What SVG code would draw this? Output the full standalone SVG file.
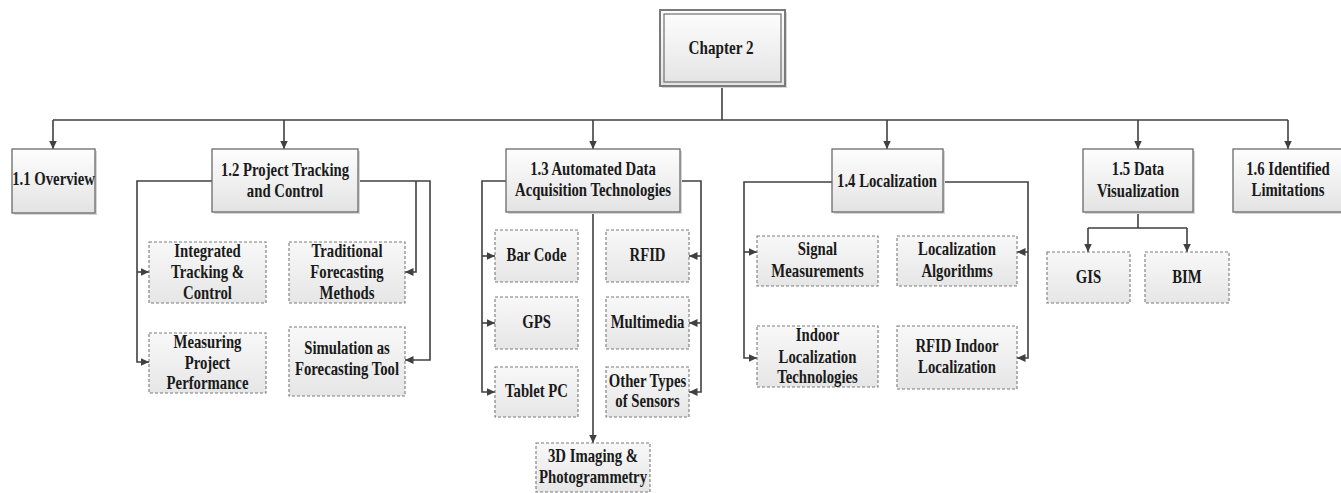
<svg xmlns="http://www.w3.org/2000/svg" width="1341" height="493" viewBox="0 0 1341 493">
<style>
.box{fill:url(#g);stroke:#6a6a6a;stroke-width:1.3}
.dbox{fill:url(#g2);stroke:#7a7a7a;stroke-width:1.1;stroke-dasharray:3 2}
.sh{fill:#d6d6d6}
text{font-family:"Liberation Serif","Times New Roman",serif;font-weight:bold;font-size:18px;fill:#1a1a1a;text-anchor:middle}
.c{fill:none;stroke:#404040;stroke-width:1.6}
.a{fill:none;stroke:#404040;stroke-width:1.6;marker-end:url(#ah)}
</style>
<defs>
<linearGradient id="g" x1="0" y1="0" x2="0" y2="1"><stop offset="0" stop-color="#fefefe"/><stop offset="1" stop-color="#e3e3e3"/></linearGradient>
<linearGradient id="g2" x1="0" y1="0" x2="0" y2="1"><stop offset="0" stop-color="#f8f8f8"/><stop offset="1" stop-color="#e6e6e6"/></linearGradient>
<marker id="ah" markerUnits="userSpaceOnUse" markerWidth="9" markerHeight="9" refX="8.5" refY="4.5" orient="auto"><path d="M0,0.5 L8.5,4.5 L0,8.5 z" fill="#404040"/></marker>
</defs>
<rect width="1341" height="493" fill="#fff"/>
<g id="connectors">
<path class="c" d="M722,86 V120"/>
<path class="c" d="M53,120 H1288"/>
<path class="a" d="M53,120 V149"/>
<path class="a" d="M284,120 V149"/>
<path class="a" d="M593,120 V149"/>
<path class="a" d="M887,120 V149"/>
<path class="a" d="M1138,120 V149"/>
<path class="a" d="M1288,120 V149"/>
<path class="a" d="M212,181 H137 V362 H149"/>
<path class="a" d="M137,272 H149"/>
<path class="a" d="M358,181 H430 V360 H405"/>
<path class="a" d="M416,181 V272 H405"/>
<path class="a" d="M506,181 H482 V392 H495"/>
<path class="a" d="M482,256 H495"/>
<path class="a" d="M482,323 H495"/>
<path class="a" d="M680,181 H701 V392 H689"/>
<path class="a" d="M701,256 H689"/>
<path class="a" d="M701,323 H689"/>
<path class="a" d="M593,212 V443"/>
<path class="a" d="M832,182 H744 V358 H757"/>
<path class="a" d="M744,252 H757"/>
<path class="a" d="M943,182 H1028 V358 H1017"/>
<path class="a" d="M1028,252 H1017"/>
<path class="c" d="M1138,212 V228 M1088,228 H1187"/>
<path class="a" d="M1088,228 V252"/>
<path class="a" d="M1187,228 V252"/>
</g>
<g id="chapter2">
<rect class="sh" x="662" y="12" width="125" height="76"/>
<rect x="660" y="10" width="125" height="76" fill="url(#g)" stroke="#7a7a7a" stroke-width="2"/>
<rect x="664" y="14" width="117" height="68" fill="none" stroke="#7a7a7a" stroke-width="1.3"/>
<text transform="matrix(.82 0 0 1 721 0)" y="54" style="font-size:18.5px">Chapter 2</text>
</g>
<g id="n11">
<rect class="sh" x="14" y="151" width="83" height="64"/>
<rect class="box" x="12" y="149" width="83" height="64"/>
<text transform="matrix(.82 0 0 1 53.5 0)" y="185">1.1 Overview</text>
</g>
<g id="n12">
<rect class="sh" x="214" y="151" width="146" height="63"/>
<rect class="box" x="212" y="149" width="146" height="63"/>
<text transform="matrix(.82 0 0 1 285 0)" y="176">1.2 Project Tracking</text>
<text transform="matrix(.82 0 0 1 285 0)" y="197">and Control</text>
</g>
<g id="n13">
<rect class="sh" x="508" y="151" width="174" height="63"/>
<rect class="box" x="506" y="149" width="174" height="63"/>
<text transform="matrix(.82 0 0 1 593 0)" y="175">1.3 Automated Data</text>
<text transform="matrix(.82 0 0 1 593 0)" y="196">Acquisition Technologies</text>
</g>
<g id="n14">
<rect class="sh" x="834" y="151" width="111" height="63"/>
<rect class="box" x="832" y="149" width="111" height="63"/>
<text transform="matrix(.82 0 0 1 887 0)" y="187">1.4 Localization</text>
</g>
<g id="n15">
<rect class="sh" x="1085" y="151" width="110" height="63"/>
<rect class="box" x="1083" y="149" width="110" height="63"/>
<text transform="matrix(.82 0 0 1 1138 0)" y="175">1.5 Data</text>
<text transform="matrix(.82 0 0 1 1138 0)" y="197">Visualization</text>
</g>
<g id="n16">
<rect class="sh" x="1235" y="151" width="112" height="63"/>
<rect class="box" x="1233" y="149" width="112" height="63"/>
<text transform="matrix(.82 0 0 1 1288 0)" y="175">1.6 Identified</text>
<text transform="matrix(.82 0 0 1 1288 0)" y="196">Limitations</text>
</g>
<g id="integrated">
<rect class="dbox" x="149" y="242" width="117" height="61"/>
<text transform="matrix(.82 0 0 1 207.5 0)" y="257">Integrated</text>
<text transform="matrix(.82 0 0 1 207.5 0)" y="278">Tracking &amp;</text>
<text transform="matrix(.82 0 0 1 207.5 0)" y="299">Control</text>
</g>
<g id="measuring">
<rect class="dbox" x="149" y="333" width="117" height="60"/>
<text transform="matrix(.82 0 0 1 207.5 0)" y="348">Measuring</text>
<text transform="matrix(.82 0 0 1 207.5 0)" y="369">Project</text>
<text transform="matrix(.82 0 0 1 207.5 0)" y="389">Performance</text>
</g>
<g id="traditional">
<rect class="dbox" x="289" y="242" width="116" height="61"/>
<text transform="matrix(.82 0 0 1 347 0)" y="257">Traditional</text>
<text transform="matrix(.82 0 0 1 347 0)" y="278">Forecasting</text>
<text transform="matrix(.82 0 0 1 347 0)" y="299">Methods</text>
</g>
<g id="simulation">
<rect class="dbox" x="289" y="327" width="116" height="69"/>
<text transform="matrix(.82 0 0 1 347 0)" y="354">Simulation as</text>
<text transform="matrix(.82 0 0 1 347 0)" y="375">Forecasting Tool</text>
</g>
<g id="barcode">
<rect class="dbox" x="495" y="230" width="83" height="52"/>
<text transform="matrix(.82 0 0 1 536.5 0)" y="261">Bar Code</text>
</g>
<g id="gps">
<rect class="dbox" x="495" y="297" width="83" height="52"/>
<text transform="matrix(.82 0 0 1 536.5 0)" y="328">GPS</text>
</g>
<g id="tablet">
<rect class="dbox" x="495" y="367" width="83" height="50"/>
<text transform="matrix(.82 0 0 1 536.5 0)" y="397">Tablet PC</text>
</g>
<g id="rfid">
<rect class="dbox" x="606" y="230" width="83" height="52"/>
<text transform="matrix(.82 0 0 1 647.5 0)" y="261">RFID</text>
</g>
<g id="multimedia">
<rect class="dbox" x="606" y="297" width="83" height="52"/>
<text transform="matrix(.82 0 0 1 647.5 0)" y="328">Multimedia</text>
</g>
<g id="othersensors">
<rect class="dbox" x="606" y="367" width="83" height="50"/>
<text transform="matrix(.82 0 0 1 647.5 0)" y="387">Other Types</text>
<text transform="matrix(.82 0 0 1 647.5 0)" y="407">of Sensors</text>
</g>
<g id="imaging3d">
<rect class="dbox" x="536" y="443" width="114" height="49"/>
<text transform="matrix(.82 0 0 1 593 0)" y="462">3D Imaging &amp;</text>
<text transform="matrix(.82 0 0 1 593 0)" y="483">Photogrammetry</text>
</g>
<g id="signal">
<rect class="dbox" x="757" y="236" width="121" height="50"/>
<text transform="matrix(.82 0 0 1 817.5 0)" y="255">Signal</text>
<text transform="matrix(.82 0 0 1 817.5 0)" y="277">Measurements</text>
</g>
<g id="localg">
<rect class="dbox" x="897" y="236" width="120" height="50"/>
<text transform="matrix(.82 0 0 1 957 0)" y="255">Localization</text>
<text transform="matrix(.82 0 0 1 957 0)" y="277">Algorithms</text>
</g>
<g id="indoor">
<rect class="dbox" x="757" y="326" width="121" height="61"/>
<text transform="matrix(.82 0 0 1 817.5 0)" y="341">Indoor</text>
<text transform="matrix(.82 0 0 1 817.5 0)" y="363">Localization</text>
<text transform="matrix(.82 0 0 1 817.5 0)" y="383">Technologies</text>
</g>
<g id="rfidindoor">
<rect class="dbox" x="897" y="326" width="120" height="63"/>
<text transform="matrix(.82 0 0 1 957 0)" y="352">RFID Indoor</text>
<text transform="matrix(.82 0 0 1 957 0)" y="373">Localization</text>
</g>
<g id="gis">
<rect class="dbox" x="1047" y="252" width="83" height="51"/>
<text transform="matrix(.82 0 0 1 1088.5 0)" y="283">GIS</text>
</g>
<g id="bim">
<rect class="dbox" x="1145" y="252" width="84" height="51"/>
<text transform="matrix(.82 0 0 1 1187 0)" y="283">BIM</text>
</g>
</svg>
